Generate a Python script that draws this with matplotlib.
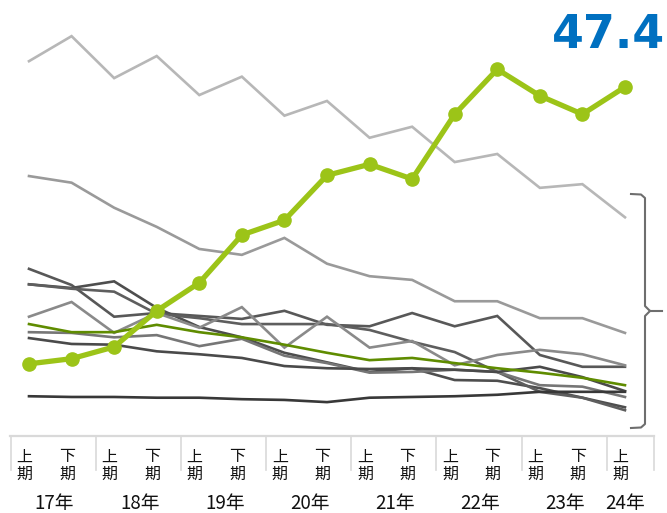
import matplotlib
matplotlib.use('Agg')
import matplotlib.pyplot as plt

plt.rcParams['font.family'] = ['Noto Sans CJK JP', 'DejaVu Sans']

# 半期ラベル (17年上期 ～ 24年上期)
half_labels = ['上', '下'] * 7 + ['上']
year_labels = ['17年', '18年', '19年', '20年', '21年', '22年', '23年', '24年']

# 強調系列
highlight = [9.8, 10.5, 12.1, 17.0, 20.8, 27.3, 29.3, 35.4, 36.9, 34.9, 43.7, 49.8, 46.2, 43.7, 47.4]

# その他の系列
series_a = [50.9, 54.3, 48.6, 51.6, 46.3, 48.8, 43.5, 45.5, 40.5, 42.0, 37.2, 38.3, 33.7, 34.2, 29.7]
series_b = [35.3, 34.4, 31.0, 28.4, 25.4, 24.6, 26.9, 23.4, 21.7, 21.2, 18.3, 18.3, 16.0, 16.0, 14.0]
series_c = [22.7, 20.5, 16.2, 16.7, 16.3, 15.9, 17.0, 15.1, 14.9, 16.7, 14.9, 16.3, 11.0, 9.4, 9.4]
series_d = [20.6, 20.1, 21.0, 17.4, 14.8, 13.4, 11.3, 10.0, 8.7, 9.2, 7.6, 7.5, 6.5, 5.2, 3.9]
series_e = [20.6, 20.0, 19.6, 16.6, 16.0, 15.2, 15.2, 15.2, 14.4, 12.8, 11.4, 8.7, 6.0, 5.2, 3.5]
series_f = [16.2, 18.2, 14.0, 16.7, 14.7, 17.5, 12.0, 16.2, 12.0, 12.9, 9.6, 11.0, 11.7, 11.1, 9.6]
series_g = [14.1, 14.0, 13.4, 13.7, 12.2, 13.2, 10.9, 9.9, 8.6, 8.7, 9.0, 8.7, 6.9, 6.7, 5.3]
series_h = [13.3, 12.5, 12.4, 11.5, 11.1, 10.6, 9.5, 9.2, 9.1, 9.2, 9.0, 8.7, 9.4, 8.0, 6.1]
series_z = [5.4, 5.3, 5.3, 5.2, 5.2, 5.0, 4.9, 4.6, 5.2, 5.3, 5.4, 5.6, 6.0, 6.0, 6.0]
series_olive = [15.2, 14.1, 14.1, 15.1, 14.1, 13.4, 12.4, 11.3, 10.3, 10.6, 9.9, 9.2, 8.6, 7.9, 6.9]

grey_lines = [
    (series_a, '#b7b7b7'),
    (series_b, '#9a9a9a'),
    (series_c, '#585858'),
    (series_d, '#4e4e4e'),
    (series_e, '#5e5e5e'),
    (series_f, '#8a8a8a'),
    (series_g, '#767676'),
    (series_h, '#4a4a4a'),
    (series_z, '#383838'),
]

W, H = 667, 513
fig = plt.figure(figsize=(W / 100, H / 100), dpi=100)
ax = fig.add_axes([0, 0, 1, 1])

# 画素位置 -> データ座標
x0, dx = 29, 42.57
y0, k = 436, 0.1358
def px_x(p):
    return (p - x0) / dx
def px_y(p):
    return (y0 - p) * k

ax.set_xlim(px_x(0), px_x(W))
ax.set_ylim(px_y(H), px_y(0))
ax.axis('off')

xs = list(range(len(half_labels)))

for vals, col in grey_lines:
    ax.plot(xs, vals, color=col, lw=1.9, solid_joinstyle='miter', zorder=2)
ax.plot(xs, series_olive, color='#5f8c00', lw=1.9, zorder=3)
ax.plot(xs, highlight, color='#9cc418', lw=3.8, marker='o', ms=9.5,
        solid_joinstyle='round', zorder=4)

# 最新値
ax.text(px_x(665), px_y(48), f'{highlight[-1]:.1f}', color='#0070c0',
        fontsize=33, fontweight='bold', family='DejaVu Sans',
        ha='right', va='baseline')

# 右側の括弧
bx = px_x(645)
ax.plot([px_x(631), px_x(641), bx, bx, px_x(650), px_x(662)],
        [px_y(194), px_y(194.5), px_y(198), px_y(306), px_y(311), px_y(311)],
        color='#6e6e6e', lw=1.5, clip_on=False, solid_joinstyle='round')
ax.plot([px_x(650), bx, bx, px_x(641), px_x(631)],
        [px_y(311), px_y(316), px_y(424), px_y(427.5), px_y(428)],
        color='#6e6e6e', lw=1.5, clip_on=False, solid_joinstyle='round')

# 横軸
ax.plot([px_x(10), px_x(654)], [0, 0], color='#d9d9d9', lw=1.6, zorder=1)
for b in [i * 2 - 0.43 for i in range(8)] + [px_x(654)]:
    ax.plot([b, b], [0, px_y(470)], color='#d9d9d9', lw=1.2, zorder=1)

for i, lab in enumerate(half_labels):
    ax.text(i - 0.11, px_y(457), lab, fontsize=11.5, ha='center', va='center',
            color='#111111')
    ax.text(i - 0.11, px_y(474), '期', fontsize=11.5, ha='center', va='center',
            color='#111111')

for j, lab in enumerate(year_labels):
    pos = 2 * j + 0.6 if j < 7 else 14.0
    ax.text(pos, px_y(503), lab, fontsize=13.5, ha='center', va='center',
            color='#111111')

fig.savefig('out.png', dpi=100)
